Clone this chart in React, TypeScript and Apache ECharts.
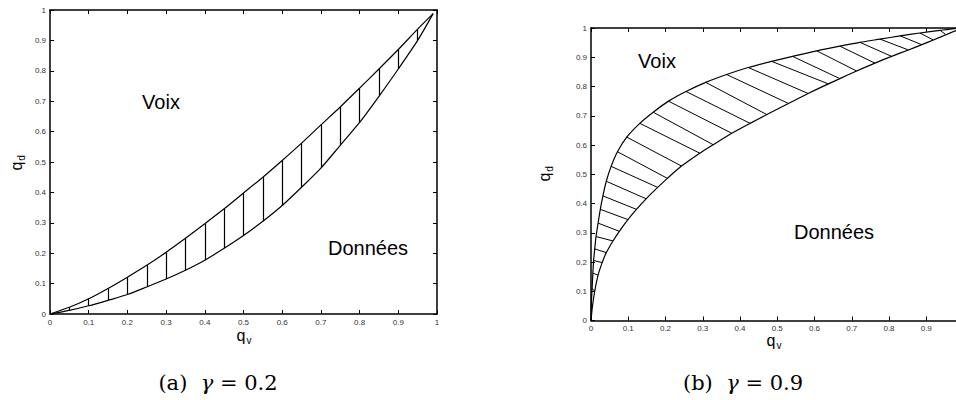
import React, { useEffect, useRef } from "react";
import * as echarts from "echarts";

// Panel (a): gamma = 0.2 — boundary curves sampled every 0.05 in q_v
const leftQv = [0, 0.05, 0.1, 0.15, 0.2, 0.25, 0.3, 0.35, 0.4, 0.45, 0.5, 0.55, 0.6, 0.65, 0.7, 0.75, 0.8, 0.85, 0.9, 0.95, 0.99];
const leftUpper = [0, 0.022, 0.05, 0.084, 0.121, 0.16, 0.203, 0.249, 0.297, 0.346, 0.398, 0.45, 0.505, 0.562, 0.622, 0.681, 0.743, 0.806, 0.87, 0.937, 0.988];
const leftLower = [0, 0.012, 0.027, 0.045, 0.064, 0.089, 0.115, 0.144, 0.177, 0.216, 0.258, 0.305, 0.357, 0.417, 0.48, 0.555, 0.63, 0.716, 0.806, 0.9, 0.988];

// Panel (b): gamma = 0.9 — upper boundary
const rightUpperQv = [0, 0.0008, 0.003, 0.005, 0.007, 0.01, 0.0135, 0.019, 0.025, 0.032, 0.041, 0.054, 0.071, 0.096, 0.131, 0.167, 0.208, 0.255, 0.308, 0.364, 0.422, 0.485, 0.541, 0.606, 0.668, 0.722, 0.776, 0.83, 0.883, 0.937, 0.975, 1];
const rightUpperQd = [0, 0.055, 0.11, 0.162, 0.205, 0.245, 0.287, 0.333, 0.38, 0.426, 0.476, 0.527, 0.577, 0.627, 0.674, 0.712, 0.75, 0.783, 0.814, 0.841, 0.865, 0.886, 0.903, 0.922, 0.938, 0.951, 0.962, 0.973, 0.983, 0.992, 0.998, 1];
// Panel (b): lower boundary
const rightLowerQv = [0, 0.0035, 0.01, 0.019, 0.03, 0.041, 0.059, 0.076, 0.099, 0.122, 0.148, 0.179, 0.205, 0.243, 0.292, 0.328, 0.378, 0.427, 0.472, 0.53, 0.583, 0.637, 0.668, 0.713, 0.762, 0.807, 0.852, 0.888, 0.919, 0.953, 0.98, 1];
const rightLowerQd = [0, 0.045, 0.1, 0.155, 0.198, 0.232, 0.272, 0.305, 0.345, 0.38, 0.416, 0.455, 0.486, 0.528, 0.572, 0.601, 0.64, 0.674, 0.704, 0.742, 0.776, 0.809, 0.827, 0.853, 0.88, 0.903, 0.925, 0.943, 0.959, 0.977, 0.991, 1];

// Hatch segments of panel (b) join sample k of the upper curve to sample k of the lower one
const rightHatchFirst = 2;
const rightHatchLast = 29;

const SANS = "Liberation Sans, Arial, sans-serif";
const SERIF = "DejaVu Serif, serif";

function zip(xs: number[], ys: number[]) {
  return xs.map((x, i) => [x, ys[i]]);
}

function axis(gridIndex: number, position: string, labels: boolean, showMax = true) {
  return {
    type: "value",
    gridIndex,
    position,
    min: 0,
    max: 1,
    interval: 0.1,
    axisLine: { show: true, onZero: false, lineStyle: { color: "#000", width: 1.5 } },
    axisTick: { show: true, inside: true, length: 4, lineStyle: { color: "#000", width: 1 } },
    axisLabel: {
      show: labels,
      fontSize: 8,
      fontFamily: SANS,
      color: "#333",
      margin: 4,
      showMinLabel: true,
      showMaxLabel: showMax,
    },
    splitLine: { show: false },
  };
}

function curve(data: number[][], grid: number) {
  return {
    type: "line",
    xAxisIndex: grid * 2,
    yAxisIndex: grid * 2,
    data,
    showSymbol: false,
    smooth: 0.25,
    lineStyle: { color: "#000", width: 1.2, join: "round" },
    silent: true,
  };
}

function hatch(segments: number[][][], grid: number, width: number) {
  return {
    type: "lines",
    coordinateSystem: "cartesian2d",
    xAxisIndex: grid * 2,
    yAxisIndex: grid * 2,
    data: segments.map((c) => ({ coords: c })),
    lineStyle: { color: "#000", width, opacity: 1, curveness: 0 },
    silent: true,
  };
}

function subscripted(x: number, y: number, main: string, sub: string, rotation = 0) {
  return {
    type: "group",
    x,
    y,
    rotation,
    children: [
      {
        type: "text",
        x: 0,
        y: 0,
        style: { text: main, fontSize: 16, fontFamily: SANS, fill: "#000", align: "center", verticalAlign: "middle" },
      },
      {
        type: "text",
        x: 8,
        y: 5,
        style: { text: sub, fontSize: 10, fontFamily: SANS, fill: "#000", align: "center", verticalAlign: "middle" },
      },
    ],
  };
}

function label(x: number, y: number, text: string) {
  return {
    type: "text",
    x,
    y,
    style: { text, fontSize: 20, fontFamily: SANS, fill: "#000", align: "center", verticalAlign: "middle" },
  };
}

function caption(x: number, y: number, tag: string, value: string) {
  return {
    type: "text",
    x,
    y,
    style: {
      text: `(${tag})  {g|γ} = ${value}`,
      fontSize: 21,
      fontFamily: SERIF,
      fill: "#000",
      align: "center",
      verticalAlign: "middle",
      rich: { g: { fontSize: 21, fontFamily: SERIF, fontStyle: "italic", fill: "#000" } },
    },
  };
}

export default function App() {
  const ref = useRef<HTMLDivElement>(null);

  useEffect(() => {
    if (!ref.current) return;
    const chart = echarts.init(ref.current, null, { renderer: "svg" });

    const leftHatch = leftQv.slice(1, -1).map((q, i) => [
      [q, leftLower[i + 1]],
      [q, leftUpper[i + 1]],
    ]);
    const rightHatch: number[][][] = [];
    for (let k = rightHatchFirst; k <= rightHatchLast; k++) {
      rightHatch.push([
        [rightUpperQv[k], rightUpperQd[k]],
        [rightLowerQv[k], rightLowerQd[k]],
      ]);
    }

    chart.setOption({
      animation: false,
      backgroundColor: "#fff",
      grid: [
        { left: 50, top: 10, width: 387, height: 304, outerBoundsMode: "none" },
        { left: 591, top: 28, width: 372.5, height: 292.5, outerBoundsMode: "none" },
      ],
      xAxis: [axis(0, "bottom", true), axis(0, "top", false), axis(1, "bottom", true, false), axis(1, "top", false)],
      yAxis: [axis(0, "left", true), axis(0, "right", false), axis(1, "left", true), axis(1, "right", false)],
      series: [
        curve(zip(leftQv, leftUpper), 0),
        curve(zip(leftQv, leftLower), 0),
        hatch(leftHatch, 0, 1.2),
        curve(zip(rightUpperQv, rightUpperQd), 1),
        curve(zip(rightLowerQv, rightLowerQd), 1),
        hatch(rightHatch, 1, 1),
      ],
      graphic: [
        label(161, 102, "Voix"),
        label(368, 248, "Données"),
        label(657, 61, "Voix"),
        label(834, 232, "Données"),
        subscripted(241, 335, "q", "v"),
        subscripted(771, 340, "q", "v"),
        subscripted(16, 166, "q", "d", Math.PI / 2),
        subscripted(544, 177, "q", "d", Math.PI / 2),
        caption(218, 383, "a", "0.2"),
        caption(743, 383, "b", "0.9"),
      ],
    });

    return () => chart.dispose();
  }, []);

  return (
    <div
      ref={ref}
      style={{ position: "fixed", left: 0, top: 0, width: 956, height: 400, background: "#fff" }}
    />
  );
}
